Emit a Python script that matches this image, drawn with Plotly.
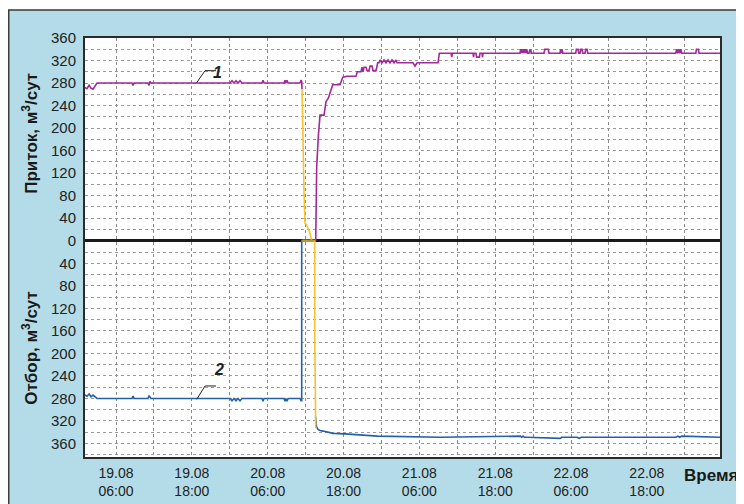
import plotly.graph_objects as go
from datetime import datetime, timedelta

BASE = datetime(2010, 8, 19, 0, 0)  # 19.08 00:00

# ---- Inflow (Приток), curve 1: hours after 19.08 00:00, m3/day ----
inflow_h = [1.09, 1.41, 1.73, 2.04, 2.36, 2.68, 2.99, 8.53, 8.69, 8.85, 11.06, 11.22, 11.38, 11.54,
            24.04, 24.35, 24.67, 24.99, 25.30, 25.62, 25.94, 29.10, 29.26, 29.42, 32.58, 32.74,
            32.90, 33.06, 33.22, 35.11, 35.27, 35.38, 35.43,
            None,
            37.60, 37.75, 38.01, 38.28, 38.91, 39.23, 39.59, 39.86, 40.29, 41.44, 41.87, 42.50,
            43.97, 44.18, 44.76, 44.92, 45.08, 45.24, 45.56, 45.72, 46.03, 46.19, 46.51, 46.66,
            47.14, 47.41, 47.61, 47.77, 48.09, 48.41, 48.72, 49.04, 49.35, 49.67, 49.99, 50.30,
            50.46, 52.99, 53.31, 53.63, 56.95, 57.16, 59.01, 59.12, 59.24, 62.49, 62.57, 62.65,
            62.96, 63.05, 63.50, 63.59, 63.91, 63.99, 64.07, 69.92, 70.04, 70.16, 70.28, 70.40,
            70.52, 70.63, 70.75, 70.87, 70.99, 71.11, 71.35, 71.45, 71.66, 71.70, 73.72, 73.85,
            74.40, 74.51, 76.25, 76.35, 76.45, 76.57, 76.70, 78.74, 78.85, 79.11, 79.22, 79.42,
            79.53, 79.74, 79.85, 80.21, 80.32, 80.53, 80.64, 94.56, 94.72, 94.88, 95.04, 95.20,
            95.36, 95.52, 95.68, 97.74, 97.85, 98.15, 98.26, 101.57]
inflow_v = [272, 270, 276, 271, 269, 275, 280, 280, 276, 280, 280, 276, 283, 280,
            280, 284, 280, 284, 280, 284, 280, 280, 285, 280, 280, 285,
            280, 285, 280, 280, 285, 283, 269,
            None,
            0, 131, 185, 223, 223, 247, 253, 262, 277, 277, 290, 292,
            292, 300, 300, 308, 300, 308, 308, 302, 302, 310, 310, 302,
            302, 316, 316, 321, 316, 321, 316, 321, 316, 321, 316, 321,
            316, 316, 310, 316, 316, 333, 333, 326, 333, 333, 326, 333,
            333, 326, 326, 333, 333, 326, 333, 333, 340, 333, 340, 333,
            340, 333, 340, 333, 340, 333, 333, 338, 338, 333, 333, 340,
            340, 333, 333, 340, 333, 340, 333, 333, 340, 340, 333, 333,
            340, 340, 333, 333, 340, 340, 333, 333, 340, 333, 340, 333,
            340, 333, 333, 333, 340, 340, 333, 333]

# ---- Outflow (Отбор), curve 2: hours after 19.08 00:00, m3/day ----
outflow_h = [1.09, 1.41, 1.73, 2.04, 2.36, 2.68, 2.99, 8.53, 8.69, 8.85, 11.06, 11.22, 11.38, 11.54,
             24.04, 24.35, 24.67, 24.99, 25.30, 25.62, 25.94, 29.10, 29.26, 29.42, 32.58, 32.74,
             32.90, 33.06, 33.22, 35.11, 35.27, 35.38, 35.38, 37.49,
             None,
             37.57, 37.72, 37.96, 38.28, 38.75, 39.34, 40.34, 42.23, 44.08, 46.19, 47.41, 50.94,
             57.27, 70.00, 70.20, 70.40, 70.60, 71.00, 76.30, 76.50, 79.00, 79.30, 79.60,
             88.91, 94.60, 94.90, 95.20, 95.50, 101.57]
outflow_v = [274, 276, 272, 277, 274, 278, 280, 280, 276, 280, 280, 275, 278, 280,
             280, 284, 280, 284, 280, 284, 280, 280, 285, 280, 280, 285,
             280, 285, 280, 280, 284, 284, 0, 0,
             None,
             312, 330, 335, 337, 338, 339, 342, 343, 345, 346, 347, 348,
             349, 347, 349, 347, 349, 349, 351, 349, 349, 351, 349,
             349, 349, 347, 349, 347, 349]

# ---- Transition (yellow) ----
trans_up_h = [35.43, 35.54, 35.63, 35.75, 35.90, 36.17, 36.70, 36.96]
trans_up_v = [269, 185, 143, 84, 31, 28, 13, 0]
trans_zero_h = [35.38, 37.55]
trans_zero_v = [0, 0]
trans_down_h = [37.44, 37.44, 37.60]
trans_down_v = [0, 168, 333]

# ---- Axes ticks ----
label_hours = [6, 18, 30, 42, 54, 66, 78, 90]
grid_minor_hours = [12, 24, 36, 48, 60, 72, 84, 96]
x_range_h = [1.09, 101.57]
y_ticks = list(range(-360, 361, 40))


def to_t(hours):
    return [None if h is None else BASE + timedelta(hours=h) for h in hours]


def neg(vals):
    return [None if v is None else -v for v in vals]


MAGENTA = "#a3289a"
BLUE = "#2560ab"
YELLOW = "#f7c131"
LIGHTBLUE = "#b4dce8"
FONT = "Liberation Sans, Arial, sans-serif"

fig = go.Figure()
fig.add_trace(go.Scatter(x=to_t(inflow_h), y=inflow_v, mode="lines",
                         line=dict(color=MAGENTA, width=1.6), connectgaps=False,
                         hoverinfo="skip"))
fig.add_trace(go.Scatter(x=to_t(outflow_h), y=neg(outflow_v), mode="lines",
                         line=dict(color=BLUE, width=1.6), connectgaps=False,
                         hoverinfo="skip"))
fig.add_trace(go.Scatter(x=to_t(trans_up_h), y=trans_up_v, mode="lines",
                         line=dict(color=YELLOW, width=1.6), hoverinfo="skip"))
fig.add_trace(go.Scatter(x=to_t(trans_zero_h), y=trans_zero_v, mode="lines",
                         line=dict(color="#b8952a", width=2.5), hoverinfo="skip"))
fig.add_trace(go.Scatter(x=to_t(trans_down_h), y=neg(trans_down_v), mode="lines",
                         line=dict(color=YELLOW, width=1.6), hoverinfo="skip"))

xtickvals = to_t(label_hours)
xticktext = [(BASE + timedelta(hours=h)).strftime("%d.%m<br>%H:%M") for h in label_hours]

fig.update_layout(
    width=744, height=504,
    margin=dict(l=77, r=32, t=30, b=55),
    paper_bgcolor="white",
    plot_bgcolor="white",
    showlegend=False,
    font=dict(family=FONT, color="#222222"),
    xaxis=dict(
        type="date",
        range=to_t(x_range_h),
        tickmode="array", tickvals=xtickvals, ticktext=xticktext,
        showgrid=True, gridcolor="#8a8a8a", griddash="dot", gridwidth=1,
        minor=dict(tickmode="array", tickvals=to_t(grid_minor_hours), showgrid=True,
                   gridcolor="#8a8a8a", griddash="dot", gridwidth=1, ticks=""),
        showline=True, mirror=True, linecolor="#2a2a2a", linewidth=2,
        ticks="", zeroline=False,
        tickfont=dict(family=FONT, size=14, color="#222222"),
        ticklabelstandoff=2,
    ),
    yaxis=dict(
        range=[-384, 360],
        tickmode="array", tickvals=y_ticks,
        ticktext=[str(abs(v)) for v in y_ticks],
        showgrid=True, gridcolor="#9a9a9a", griddash="dot", gridwidth=1,
        minor=dict(tickmode="linear", tick0=0, dtick=20, showgrid=True,
                   gridcolor="#9a9a9a", griddash="dot", gridwidth=1, ticks=""),
        showline=True, mirror=True, linecolor="#2a2a2a", linewidth=2,
        zeroline=True, zerolinecolor="#1a1a1a", zerolinewidth=3,
        ticks="",
        tickfont=dict(family=FONT, size=15, color="#222222"),
        ticklabelstandoff=4,
    ),
)

shapes = [
    dict(type="rect", xref="paper", yref="paper", x0=-0.1201, x1=1.08, y0=-0.17, y1=1.0668,
         fillcolor=LIGHTBLUE, line=dict(color="#3a3a3a", width=1.5), layer="below"),
    dict(type="rect", xref="paper", yref="paper", x0=0, x1=1, y0=0, y1=1,
         fillcolor="white", line=dict(width=0), layer="below"),
    # leader for label 1
    dict(type="line", xref="paper", yref="paper", x0=0.1759, y0=0.8933, x1=0.189, y1=0.922,
         line=dict(color="#222222", width=1)),
    dict(type="line", xref="paper", yref="paper", x0=0.189, y0=0.922, x1=0.2063, y1=0.922,
         line=dict(color="#222222", width=1)),
    # leader for label 2
    dict(type="line", xref="paper", yref="paper", x0=0.1759, y0=0.1377, x1=0.189, y1=0.1695,
         line=dict(color="#222222", width=1)),
    dict(type="line", xref="paper", yref="paper", x0=0.189, y0=0.1695, x1=0.2063, y1=0.1695,
         line=dict(color="#222222", width=1)),
]
fig.update_layout(shapes=shapes)

annotations = [
    dict(text="<b><i>1</i></b>", xref="paper", yref="paper", x=0.199, y=0.9434,
         showarrow=False, font=dict(family=FONT, size=16, color="#222222")),
    dict(text="<b><i>2</i></b>", xref="paper", yref="paper", x=0.2, y=0.1838,
         showarrow=False, font=dict(family=FONT, size=16, color="#222222")),
    dict(text="<b>Приток, м<sup>3</sup>/сут</b>", xref="paper", yref="paper", x=-0.087, y=0.7733,
         textangle=-90, showarrow=False, xanchor="center", yanchor="middle",
         font=dict(family=FONT, size=17, color="#1a1a1a")),
    dict(text="<b>Отбор, м<sup>3</sup>/сут</b>", xref="paper", yref="paper", x=-0.087, y=0.2601,
         textangle=-90, showarrow=False, xanchor="center", yanchor="middle",
         font=dict(family=FONT, size=17, color="#1a1a1a")),
    dict(text="<b>Время</b>", xref="paper", yref="paper", x=0.986, y=-0.043,
         showarrow=False, xanchor="center", yanchor="middle",
         font=dict(family=FONT, size=17, color="#1a1a1a")),
]
fig.update_layout(annotations=annotations)

fig.write_html("out.html")
